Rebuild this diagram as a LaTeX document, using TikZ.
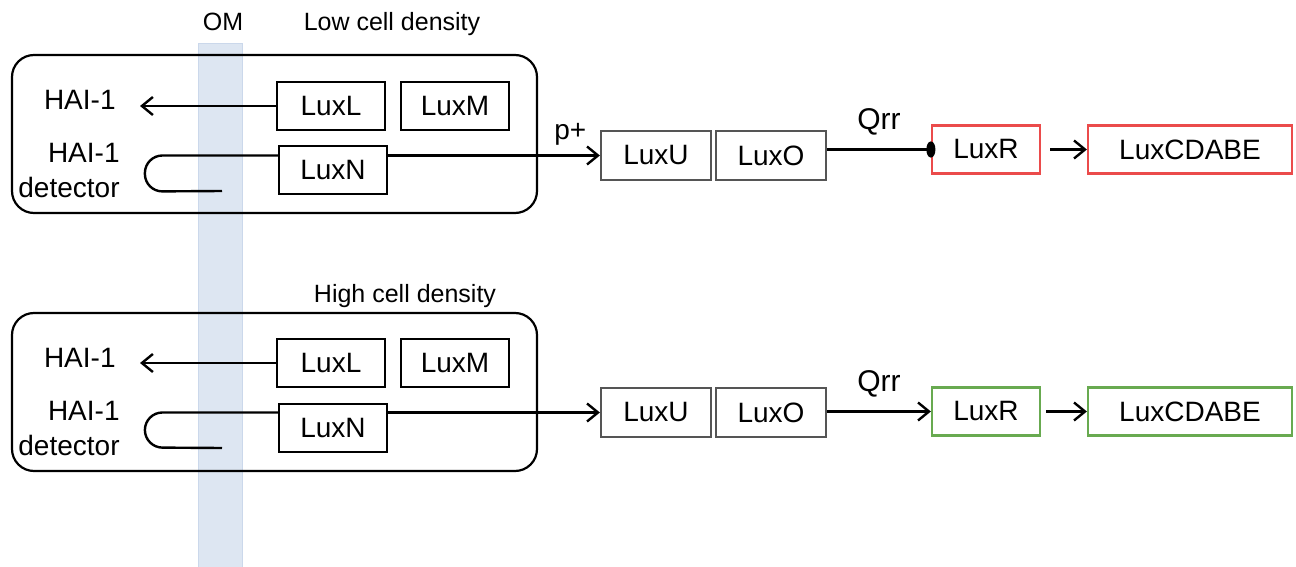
\documentclass[tikz,border=0pt]{standalone}
\usepackage{xcolor}
\usepackage{fontspec}
\setmainfont{Liberation Sans}
\usepackage{tikz}
\usetikzlibrary{arrows.meta}

\definecolor{omblue}{RGB}{221,230,242}
\definecolor{omedge}{RGB}{203,216,235}
\definecolor{luxgray}{RGB}{85,85,85}
\definecolor{luxred}{RGB}{235,75,75}
\definecolor{luxgreen}{RGB}{104,170,80}

\begin{document}
\begin{tikzpicture}[x=0.5pt, y=-0.5pt, node distance=57.5pt,
    every node/.style={font=\fontsize{14}{17.5}\selectfont},
    lux/.style={draw, rectangle, line width=1.1pt, minimum width=54pt, minimum height=24pt, inner sep=0pt},
    cell/.style={draw, rectangle, rounded corners=11pt, line width=1.1pt, minimum width=262.5pt, minimum height=79pt},
    link/.style={line width=1.2pt},
    arr/.style={link, -{Straight Barb[length=5.5pt,width=9pt]}},
    title/.style={font=\fontsize{12.5}{15}\selectfont, anchor=base}]
    \useasboundingbox (0,0) rectangle (1296,567);

    % Outer membrane band
    \fill[omblue, draw=omedge] (198,43) rectangle (242,567);
    \node[title] (om) at (223,31) {OM};

    % Low cell density
    \node[title] (lowtitle) at (392,31) {Low cell density};
    \node[cell] (lowcell) at (274.5,134) {};
    \node[lux] (luxL1) at (331,106) {LuxL};
    \node[lux, right of=luxL1, xshift=4.5pt] (luxM1) {LuxM};
    \node[lux] (luxN1) at (333,170) {LuxN};
    \node[anchor=east, inner sep=0pt] (hai1) at (116,100) {HAI-1};
    \node[anchor=north east, inner sep=0pt, align=right] (det1) at (120,143) {HAI-1\\detector};
    \coordinate (hook1) at (222,191);

    \node[lux, draw=luxgray, minimum width=55pt, minimum height=24.5pt] (luxU1) at (656,155.5) {LuxU};
    \node[lux, draw=luxgray, minimum width=55pt, minimum height=24.5pt, right of=luxU1] (luxO1) {LuxO};
    \node[lux, draw=luxred] (luxR1) at (986,149.5) {LuxR};
    \node[lux, draw=luxred, minimum width=102pt, right of=luxR1, xshift=44.5pt] (luxC1) {LuxCDABE};

    % Arrows
    \draw[arr, shorten >=12pt] (luxL1.west) -- (luxL1.west -| hai1.east);
    \draw[link, rounded corners=8.75pt] (luxU1.west -| luxN1.west) -| ++(-133,36) -- (hook1);
    \draw[arr] (luxU1.west -| luxN1.east) -- node[pos=.86, above=1pt] (pplus) {p+} (luxU1.west);
    \draw[link, -{Ellipse[length=4.5pt,width=8pt]}, shorten >=-2.25pt] (luxR1.west -| luxO1.east) -- node[midway, above=3pt, font=\fontsize{15}{18}\selectfont] (qrr1) {Qrr} (luxR1.west);
    \draw[arr, shorten <=4.5pt] (luxR1.east) -- (luxC1.west);

    % High cell density
    \node[title] (hightitle) at (405,302) {High cell density};
    \node[cell] (highcell) at (274.5,392) {};
    \node[lux] (luxL2) at (331,363) {LuxL};
    \node[lux, right of=luxL2, xshift=4.5pt] (luxM2) {LuxM};
    \node[lux] (luxN2) at (333,428) {LuxN};
    \node[anchor=east, inner sep=0pt] (hai2) at (116,358) {HAI-1};
    \node[anchor=north east, inner sep=0pt, align=right] (det2) at (120,401) {HAI-1\\detector};
    \coordinate (hook2) at (222,448);

    \node[lux, draw=luxgray, minimum width=55pt, minimum height=24.5pt] (luxU2) at (656,412.5) {LuxU};
    \node[lux, draw=luxgray, minimum width=55pt, minimum height=24.5pt, right of=luxU2] (luxO2) {LuxO};
    \node[lux, draw=luxgreen] (luxR2) at (986,411.5) {LuxR};
    \node[lux, draw=luxgreen, minimum width=102pt, right of=luxR2, xshift=44.5pt] (luxC2) {LuxCDABE};

    % Arrows
    \draw[arr, shorten >=12pt] (luxL2.west) -- (luxL2.west -| hai2.east);
    \draw[link, rounded corners=8.75pt] (luxU2.west -| luxN2.west) -| ++(-133,35) -- (hook2);
    \draw[arr] (luxU2.west -| luxN2.east) -- (luxU2.west);
    \draw[arr] (luxR2.west -| luxO2.east) -- node[midway, above=3pt, font=\fontsize{15}{18}\selectfont] (qrr2) {Qrr} (luxR2.west);
    \draw[arr, shorten <=2.5pt] (luxR2.east) -- (luxC2.west);
\end{tikzpicture}
\end{document}
